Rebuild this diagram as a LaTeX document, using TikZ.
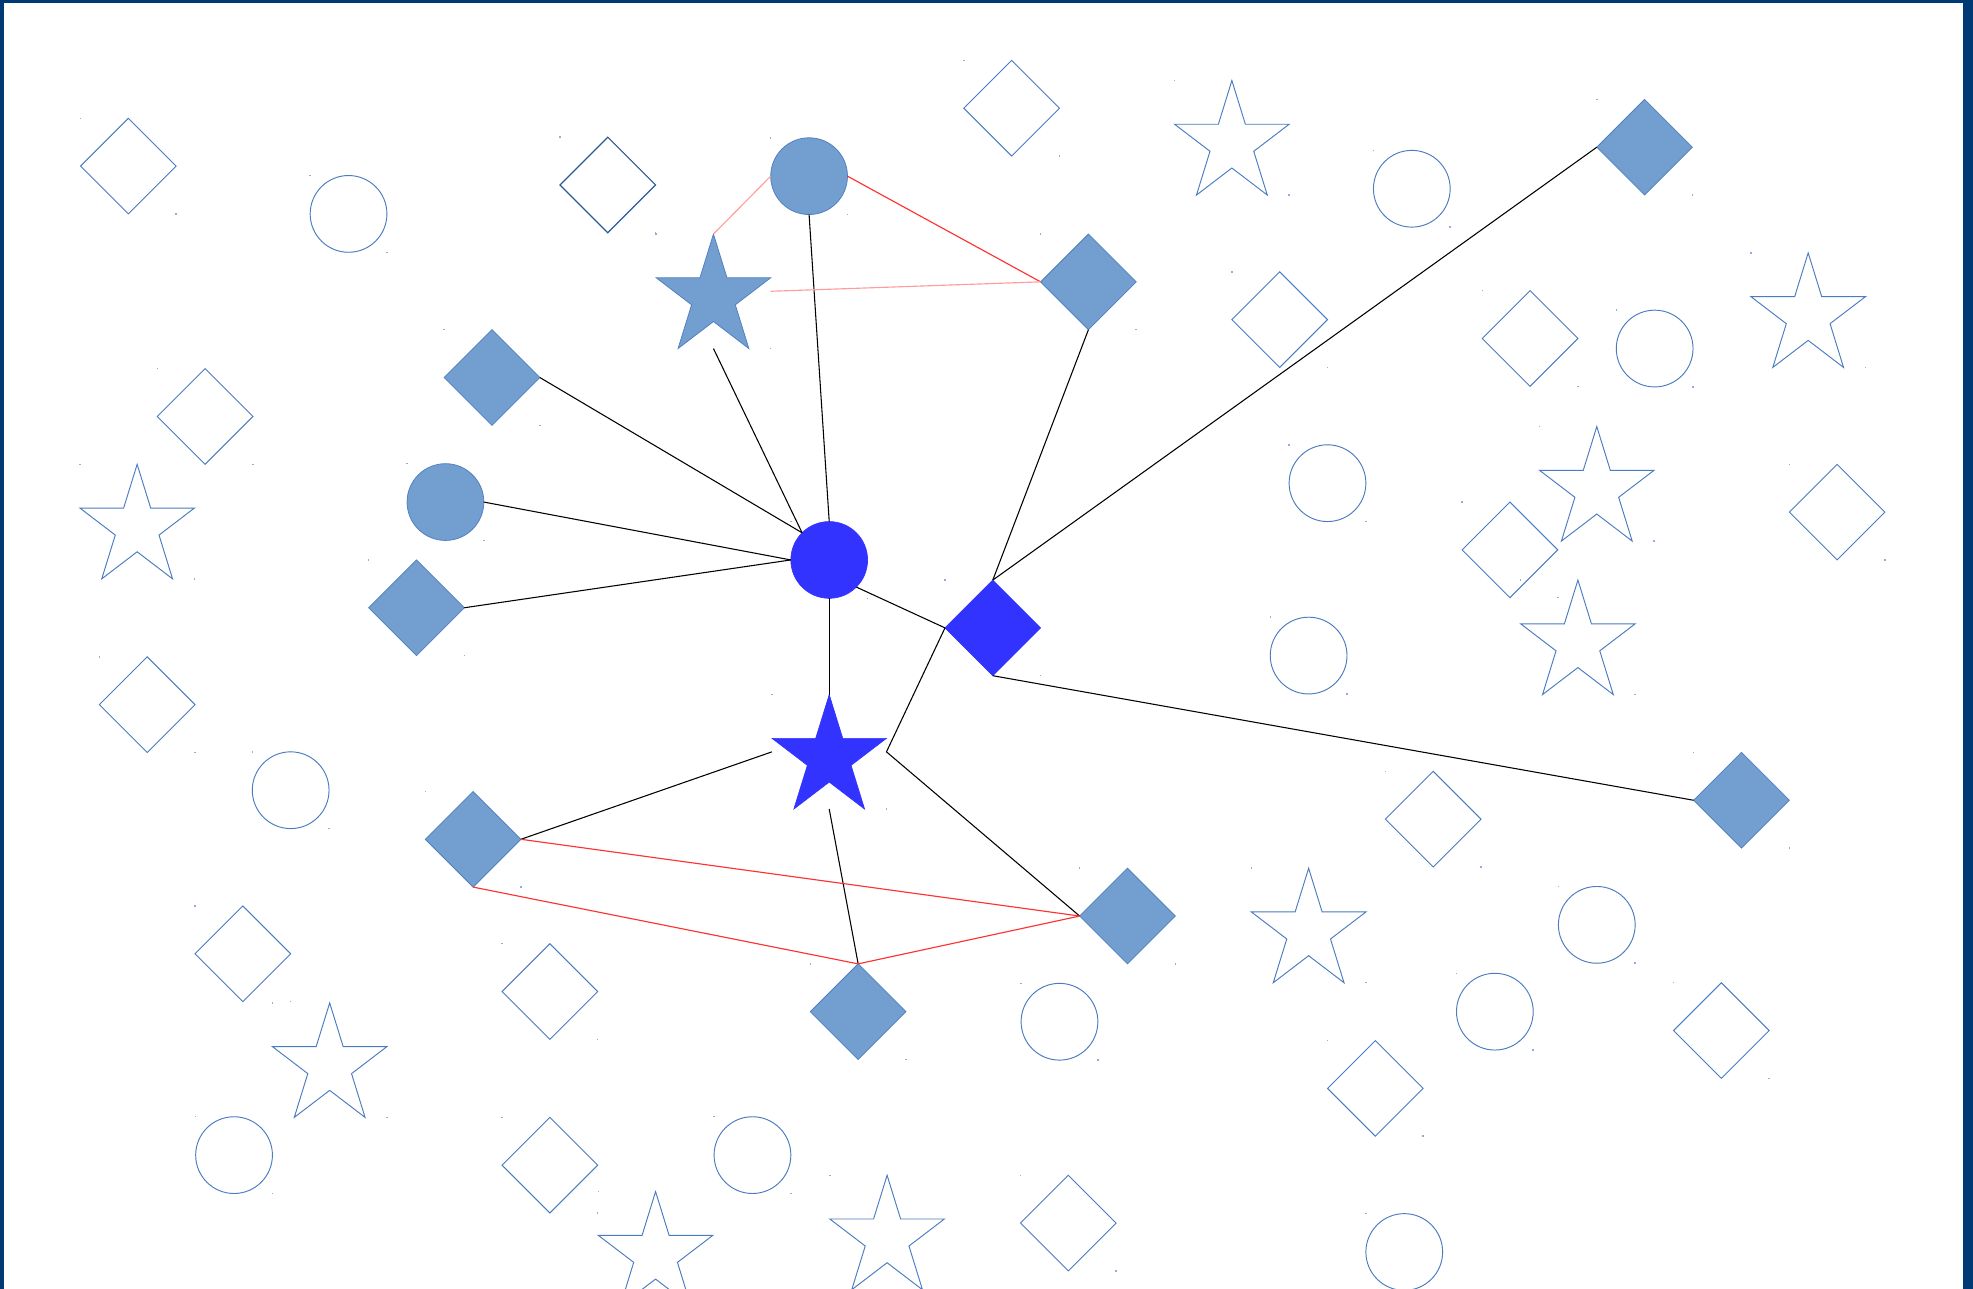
\documentclass[tikz,border=0pt]{standalone}
\usetikzlibrary{shapes.geometric}
\definecolor{frameblue}{HTML}{003A75}
\definecolor{olblue}{HTML}{4A7CC0}
\definecolor{olblued}{HTML}{2E5A9C}
\definecolor{fillblue}{HTML}{729FCF}
\definecolor{filledge}{HTML}{4F7FBF}
\definecolor{brightblue}{HTML}{3333FF}
\definecolor{redline}{HTML}{FF3030}
\definecolor{pinkline}{HTML}{FF9C9C}
\definecolor{dotblue}{HTML}{8FAEDB}

\tikzset{
 shp/.style={inner sep=0pt, outer sep=0pt},
 dmd/.style={shp, diamond, aspect=1, minimum width=76pt, minimum height=76pt},
 crc/.style={shp, circle, minimum size=61pt},
 sbox/.style={shp, rectangle, minimum width=91pt, minimum height=91pt},
 outl/.style={draw=olblue, line width=0.75pt},
 outld/.style={draw=olblued, line width=0.95pt},
 filld/.style={fill=fillblue, draw=filledge, line width=0.6pt},
 bright/.style={fill=brightblue, draw=brightblue, line width=0.5pt},
 conn/.style={draw=black, line width=0.85pt},
 redc/.style={draw=redline, line width=0.9pt},
 pinkc/.style={draw=pinkline, line width=0.9pt},
 dotmark/.style={fill=dotblue},
 framefill/.style={fill=frameblue},
}

\newcommand\bbdots[4]{%
 \fill[dotmark] ({#1-#3-0.6},{#2-#4-0.6}) rectangle ++(1.2,1.2);
 \fill[dotmark] ({#1+#3-0.6},{#2+#4-0.6}) rectangle ++(1.2,1.2);}
\newcommand\Dmd[4]{%
 \node[dmd,#4] (#1) at (#2,#3) {};
 \bbdots{#2}{#3}{38}{38}}
\newcommand\Crc[4]{%
 \node[crc,#4] (#1) at (#2,#3) {};
 \bbdots{#2}{#3}{30.5}{30.5}}
\newcommand\Str[4]{%
 \node[sbox] (#1) at (#2,#3) {};
 \path[#4, shift={(#1.north west)}, x=91pt, y=-91pt]
  (0.5,0) -- (0.618,0.382) -- (1,0.382) -- (0.691,0.618) -- (0.809,1)
  -- (0.5,0.764) -- (0.191,1) -- (0.309,0.618) -- (0,0.382) -- (0.382,0.382) -- cycle;
 \bbdots{#2}{#3}{45.5}{45.5}}

\begin{document}
\begin{tikzpicture}[x=1pt, y=-1pt]
\useasboundingbox (0,0) rectangle (1568,1024);
\fill[white] (0,0) rectangle (1568,1024);

% ---------- outline (background) shapes ----------
\Dmd{od1}{102}{132}{outl}
\Dmd{od2}{483}{147}{outld}
\Dmd{od3}{804}{86}{outl}
\Dmd{od4}{1017}{254}{outl}
\Dmd{od5}{1216}{269}{outl}
\Dmd{od6}{163}{331}{outl}
\Dmd{od7}{1460}{407}{outl}
\Dmd{od8}{1200}{437}{outl}
\Dmd{od9}{117}{560}{outl}
\Dmd{od10}{1139}{651}{outl}
\Dmd{od11}{193}{758}{outl}
\Dmd{od12}{437}{788}{outl}
\Dmd{od13}{1368}{819}{outl}
\Dmd{od14}{1093}{865}{outl}
\Dmd{od15}{437}{926}{outl}
\Dmd{od16}{849}{972}{outl}

\Crc{oc1}{277}{170}{outl}
\Crc{oc2}{1122}{150}{outl}
\Crc{oc3}{1315}{277}{outl}
\Crc{oc4}{1055}{384}{outl}
\Crc{oc5}{1040}{521}{outl}
\Crc{oc6}{231}{628}{outl}
\Crc{oc7}{1269}{735}{outl}
\Crc{oc8}{1188}{804}{outl}
\Crc{oc9}{842}{812}{outl}
\Crc{oc10}{186}{918}{outl}
\Crc{oc11}{598}{918}{outl}
\Crc{oc12}{1116}{995}{outl}

\Str{os1}{979}{109.5}{outl}
\Str{os2}{1437}{246.5}{outl}
\Str{os3}{1269}{384.5}{outl}
\Str{os4}{109}{414.5}{outl}
\Str{os5}{1254}{506.5}{outl}
\Str{os6}{1040}{735.5}{outl}
\Str{os7}{262}{842.5}{outl}
\Str{os8}{521}{992.5}{outl}
\Str{os9}{705}{979.5}{outl}

% ---------- filled light-blue shapes ----------
\Crc{cTop}{643}{140}{filld}
\Str{sTop}{567}{231.5}{filld}
\Dmd{dA}{865}{224}{filld}
\Dmd{dB}{391}{300}{filld}
\Crc{cL}{354}{399}{filld}
\Dmd{dC}{331}{483}{filld}
\Dmd{dNE}{1307}{117}{filld}
\Dmd{dE}{1384}{636}{filld}
\Dmd{dSW}{376}{667}{filld}
\Dmd{dSE}{896}{728}{filld}
\Dmd{dS}{682}{804}{filld}

% ---------- bright hub shapes ----------
\Crc{hub}{659}{445}{bright}
\Dmd{hubD}{789}{499}{bright}
\Str{hubS}{659}{597.5}{bright}

% ---------- black connectors ----------
\draw[conn] (cTop.south) -- (hub.north);
\draw[conn] (sTop.south) -- (hub.north west);
\draw[conn] (dB.east) -- (hub.north west);
\draw[conn] (cL.east) -- (hub.west);
\draw[conn] (dC.east) -- (hub.west);
\draw[conn] (hub.south) -- (hubS.north);
\draw[conn] (hub.south east) -- (hubD.west);
\draw[conn] (hubD.north) -- (dA.south);
\draw[conn] (hubD.north) -- (dNE.west);
\draw[conn] (hubD.south) -- (dE.west);
\draw[conn] (hubD.west) -- (hubS.east) -- (dSE.west);
\draw[conn] (hubS.west) -- (dSW.east);
\draw[conn] (hubS.south) -- (dS.north);

% ---------- red connectors ----------
\draw[redc] (cTop.east) -- (dA.west);
\draw[pinkc] (cTop.west) -- (sTop.north);
\draw[pinkc] (sTop.east) -- (dA.west);
\draw[redc] (dSW.east) -- (dSE.west);
\draw[redc] (dSW.south) -- (dS.north);
\draw[redc] (dS.north) -- (dSE.west);

% ---------- frame ----------
\fill[framefill] (0,0) rectangle (1568,2.5);
\fill[framefill] (0,0) rectangle (3,1024);
\fill[framefill] (1560,0) rectangle (1568,1024);
\end{tikzpicture}
\end{document}
